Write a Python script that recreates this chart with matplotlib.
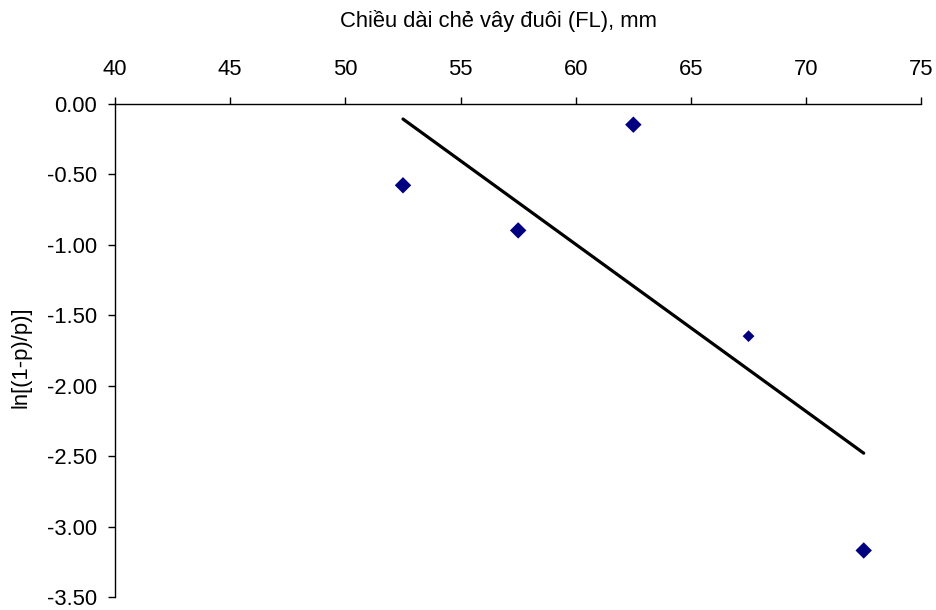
import numpy as np
import matplotlib.pyplot as plt

plt.rcParams['font.family'] = ['Liberation Sans', 'DejaVu Sans']

# datos
fl = [52.5, 57.5, 62.5, 67.5, 72.5]
ln_p = [-0.58, -0.90, -0.15, -1.65, -3.17]
fit_x = [52.5, 72.5]
fit_y = [-0.11, -2.48]
xticks = [40, 45, 50, 55, 60, 65, 70, 75]
yticks = [0.0, -0.5, -1.0, -1.5, -2.0, -2.5, -3.0, -3.5]

# estilo de cada punto (el de 67.5 es mas chico)
tam = [70, 70, 70, 36, 70]

fig = plt.figure(figsize=(9.36, 6.10), dpi=100)
ax = fig.add_axes([0.1229, 0.0213, 0.8614, 0.809])

ax.plot(fit_x, fit_y, color='black', lw=2.3, solid_capstyle='round', zorder=2)
ax.scatter(fl, ln_p, marker='D', s=tam, color='#000080', linewidths=0, zorder=3)

ax.set_xlim(40, 75)
ax.set_ylim(-3.5, 0)
ax.set_xticks(xticks)
ax.set_yticks(yticks)
ax.set_yticklabels([f"{v:.2f}" for v in yticks])

ax.spines['right'].set_visible(False)
ax.spines['bottom'].set_visible(False)
ax.spines['top'].set_linewidth(1.0)
ax.spines['left'].set_linewidth(1.0)
ax.xaxis.set_ticks_position('top')
ax.xaxis.set_label_position('top')
ax.tick_params(axis='x', direction='out', length=5, width=1.0, pad=12, labelsize=15.8)
ax.tick_params(axis='y', direction='out', length=5, width=1.0, pad=8, labelsize=15.8)

fig.text(499 / 936, 1 - 21 / 610, "Chiều dài chẻ vây đuôi (FL), mm",
         ha='center', va='center', fontsize=15.8)
fig.text(21 / 936, 1 - 357 / 610, "ln[(1-p)/p)]", rotation=90,
         ha='center', va='center', fontsize=15.8)

plt.savefig("out.png", dpi=100)
